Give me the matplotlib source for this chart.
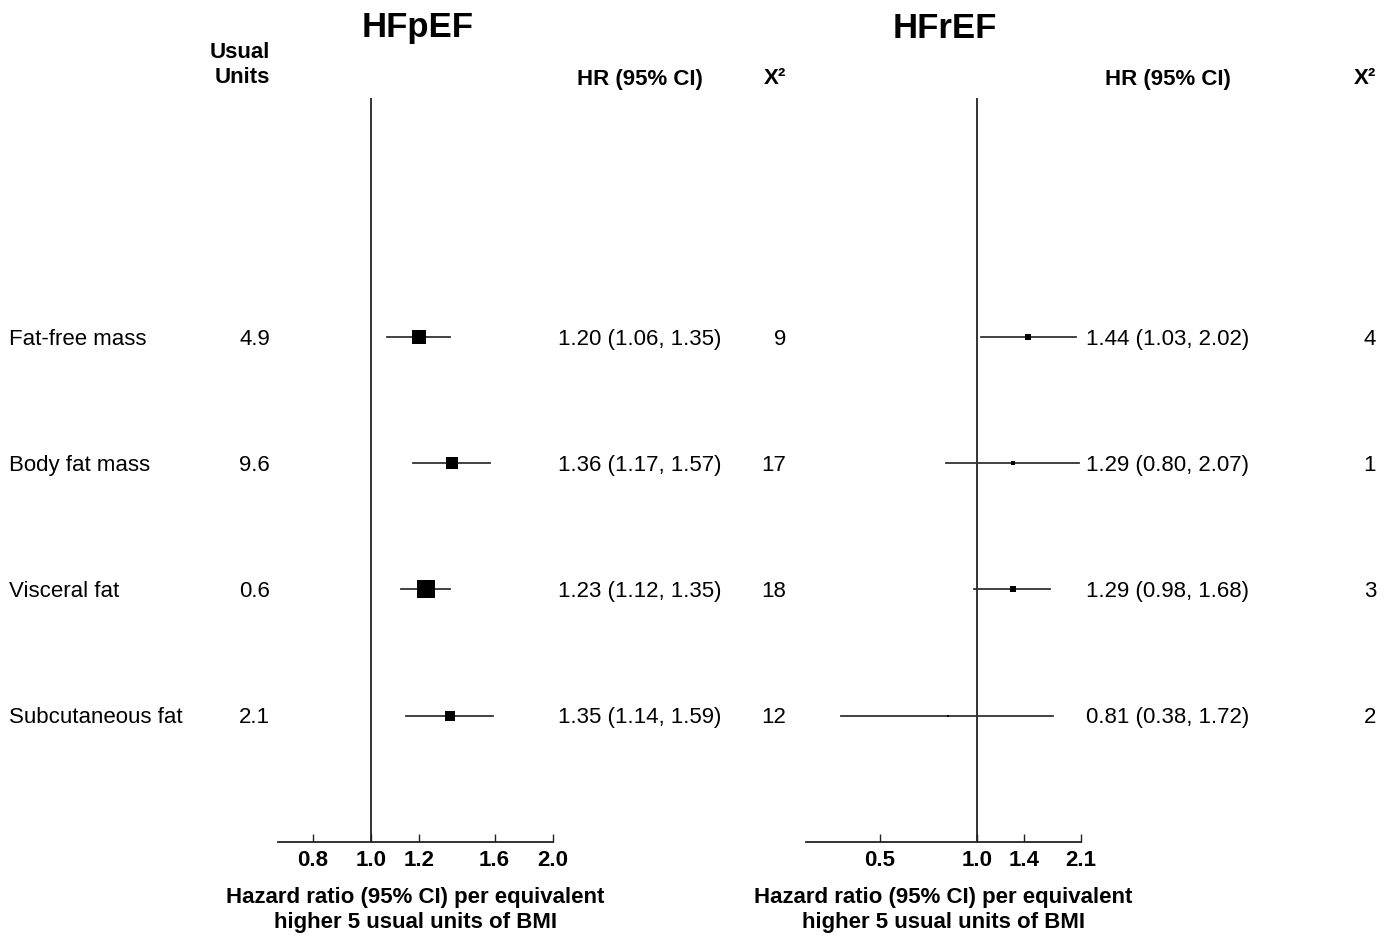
import numpy as np
import matplotlib
matplotlib.use("Agg")
import matplotlib.pyplot as plt
from matplotlib.transforms import blended_transform_factory
from matplotlib.ticker import FixedLocator, FixedFormatter

plt.rcParams['font.family'] = ['Liberation Sans', 'DejaVu Sans']

# rows, top to bottom
measures = ['Fat-free mass', 'Body fat mass', 'Visceral fat', 'Subcutaneous fat']
usual_units = ['4.9', '9.6', '0.6', '2.1']

# HFpEF
pef_hr = [1.20, 1.36, 1.23, 1.35]
pef_lo = [1.06, 1.17, 1.12, 1.14]
pef_hi = [1.35, 1.57, 1.35, 1.59]
pef_chi2 = [9, 17, 18, 12]
pef_ticks = [0.8, 1.0, 1.2, 1.6, 2.0]
pef_xlim = (0.70, 2.0)

# HFrEF
ref_hr = [1.44, 1.29, 1.29, 0.81]
ref_lo = [1.03, 0.80, 0.98, 0.38]
ref_hi = [2.02, 2.07, 1.68, 1.72]
ref_chi2 = [4, 1, 3, 2]
ref_ticks = [0.5, 1.0, 1.4, 2.1]
ref_xlim = (0.295, 2.1)

W, H = 1392, 939
fig = plt.figure(figsize=(W / 100, H / 100), dpi=100)


def fx(px):
    return px / W


def fy(py):
    return 1 - py / H


def forest(ax, hr, lo, hi, ticks, xlim):
    ypos = np.arange(1, len(hr) + 1)
    hr, lo, hi = np.array(hr), np.array(lo), np.array(hi)
    # box side proportional to inverse standard error
    se = (np.log(hi) - np.log(lo)) / (2 * 1.96)
    for y, h, l, u, s in zip(ypos, hr, lo, hi, se):
        ax.plot([l, u], [y, y], color='#333333', lw=1.3, zorder=2)
        ax.plot(h, y, marker='s', color='black', markersize=0.64 / s,
                markeredgewidth=0, zorder=3)
    ax.axvline(1.0, color='#222222', lw=1.3, zorder=1)
    ax.set_xscale('log')
    ax.set_xlim(*xlim)
    ax.set_ylim(5, -0.89)
    ax.xaxis.set_major_locator(FixedLocator(ticks))
    ax.xaxis.set_major_formatter(FixedFormatter([f'{t:.1f}' for t in ticks]))
    ax.xaxis.set_minor_locator(FixedLocator([]))
    ax.tick_params(axis='x', direction='in', length=6, width=1, pad=6,
                   labelsize=16, color='#222222')
    for lab in ax.get_xticklabels():
        lab.set_fontweight('bold')
    ax.set_yticks([])
    for side in ['top', 'left', 'right']:
        ax.spines[side].set_visible(False)
    ax.spines['bottom'].set_color('#222222')
    ax.spines['bottom'].set_linewidth(1.3)
    ax.set_xlabel('Hazard ratio (95% CI) per equivalent\nhigher 5 usual units of BMI',
                  fontsize=16, fontweight='bold', labelpad=11, linespacing=1.3)
    return ypos


ax1 = fig.add_axes([fx(278), fy(842), fx(553 - 278), fy(98) - fy(842)])
ax2 = fig.add_axes([fx(806), fy(842), fx(1081 - 806), fy(98) - fy(842)])
ypos = forest(ax1, pef_hr, pef_lo, pef_hi, pef_ticks, pef_xlim)
forest(ax2, ref_hr, ref_lo, ref_hi, ref_ticks, ref_xlim)

# row texts: x in figure fraction, y in data units of the forest axes
tr = blended_transform_factory(fig.transFigure, ax1.transData)
dy = 0.018  # nudge text down to sit level with the boxes
for i, y in enumerate(ypos):
    yt = y + dy
    ax1.text(fx(9), yt, measures[i], transform=tr, fontsize=16, va='center', ha='left')
    ax1.text(fx(270), yt, usual_units[i], transform=tr, fontsize=16, va='center', ha='right')
    ax1.text(fx(640), yt, f'{pef_hr[i]:.2f} ({pef_lo[i]:.2f}, {pef_hi[i]:.2f})',
             transform=tr, fontsize=16, va='center', ha='center')
    ax1.text(fx(786), yt, str(pef_chi2[i]), transform=tr, fontsize=16, va='center', ha='right')
    ax1.text(fx(1168), yt, f'{ref_hr[i]:.2f} ({ref_lo[i]:.2f}, {ref_hi[i]:.2f})',
             transform=tr, fontsize=16, va='center', ha='center')
    ax1.text(fx(1376), yt, str(ref_chi2[i]), transform=tr, fontsize=16, va='center', ha='right')

# titles and headers
fig.text(fx(418), fy(28), 'HFpEF', fontsize=25, fontweight='bold', ha='center', va='center')
fig.text(fx(945), fy(28), 'HFrEF', fontsize=25, fontweight='bold', ha='center', va='center')
fig.text(fx(270), fy(65), 'Usual\nUnits', fontsize=16, fontweight='bold', ha='right',
         va='center', multialignment='right', linespacing=1.3)
fig.text(fx(640), fy(79), 'HR (95% CI)', fontsize=16, fontweight='bold', ha='center', va='center')
fig.text(fx(786), fy(79), 'X²', fontsize=16, fontweight='bold', ha='right', va='center')
fig.text(fx(1168), fy(79), 'HR (95% CI)', fontsize=16, fontweight='bold', ha='center', va='center')
fig.text(fx(1376), fy(79), 'X²', fontsize=16, fontweight='bold', ha='right', va='center')

fig.savefig('out.png', dpi=100, facecolor='white')
